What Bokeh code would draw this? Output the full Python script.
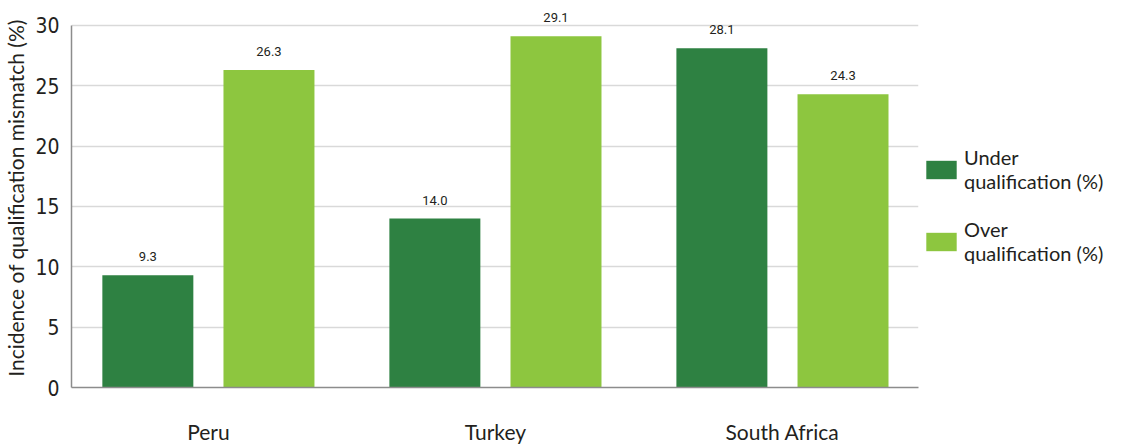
from bokeh.plotting import figure
from bokeh.models import ColumnDataSource, Range1d, FixedTicker, Legend, LegendItem
from bokeh.transform import dodge
from bokeh.embed import file_html
from bokeh.resources import INLINE

countries = ["Peru", "Turkey", "South Africa"]
under = [9.3, 14.0, 28.1]
over = [26.3, 29.1, 24.3]
y_ticks = [0, 5, 10, 15, 20, 25, 30]
series_names = ["Under\nqualification (%)", "Over\nqualification (%)"]

DARK = "#2E8142"
LIGHT = "#8DC63F"
TXT = "#231F20"

idx = list(range(len(countries)))
src = ColumnDataSource(dict(
    x=idx, under=under, over=over,
    under_lbl=[f"{v:.1f}" for v in under],
    over_lbl=[f"{v:.1f}" for v in over],
))

p = figure(frame_width=847, frame_height=379, output_backend="svg", toolbar_location=None,
           x_range=Range1d(-0.477, 2.474), y_range=Range1d(0, 31.4),
           min_border_left=63, min_border_right=0, min_border_top=8, min_border_bottom=0)
p.outline_line_color = None
p.background_fill_color = "white"

off = 0.211
bw = 0.317
r1 = p.vbar(x=dodge("x", -off), top="under", width=bw, source=src, fill_color=DARK, line_color=None)
r2 = p.vbar(x=dodge("x", off), top="over", width=bw, source=src, fill_color=LIGHT, line_color=None)

for col, lbl, o in (("under", "under_lbl", -off), ("over", "over_lbl", off)):
    p.text(x=dodge("x", o), y=col, text=lbl, source=src, text_align="center",
           text_baseline="bottom", y_offset=-14, text_font_size="13px",
           text_font={"value": "Roboto"}, text_color=TXT)

p.xaxis.ticker = FixedTicker(ticks=idx)
p.xaxis.major_label_overrides = {i: c for i, c in zip(idx, countries)}
p.xaxis.major_tick_line_color = None
p.xaxis.major_tick_out = 0
p.xaxis.major_tick_in = 0
p.xaxis.minor_tick_line_color = None
p.xaxis.axis_line_color = "#8C8C8C"
p.xaxis.axis_line_width = 1.5
p.xaxis.major_label_standoff = 31
p.xaxis.major_label_text_font = "Lato"
p.xaxis.major_label_text_font_size = "21px"
p.xaxis.major_label_text_color = TXT

p.yaxis.ticker = FixedTicker(ticks=y_ticks)
p.yaxis.bounds = (0, 30)
p.yaxis.major_tick_line_color = None
p.yaxis.major_tick_out = 0
p.yaxis.major_tick_in = 0
p.yaxis.minor_tick_line_color = None
p.yaxis.axis_line_color = "#8C8C8C"
p.yaxis.axis_line_width = 1.5
p.yaxis.major_label_standoff = 12
p.yaxis.major_label_text_font = "DejaVu Sans Condensed"
p.yaxis.major_label_text_font_size = "21px"
p.yaxis.major_label_text_color = TXT
p.yaxis.axis_label = "Incidence of qualification mismatch (%)"
p.yaxis.axis_label_text_font = "Lato"
p.yaxis.axis_label_text_font_style = "normal"
p.yaxis.axis_label_text_font_size = "21px"
p.yaxis.axis_label_text_color = TXT
p.yaxis.axis_label_standoff = 4

p.xgrid.grid_line_color = None
p.ygrid.ticker = FixedTicker(ticks=y_ticks)
p.ygrid.grid_line_color = "#D9D9D9"
p.ygrid.grid_line_width = 1.5

legend = Legend(items=[LegendItem(label=series_names[0], renderers=[r1]),
                       LegendItem(label=series_names[1], renderers=[r2])],
                location=(4, 122), orientation="vertical",
                glyph_width=38, glyph_height=23, label_standoff=4, spacing=24,
                padding=0, margin=8, border_line_color=None, background_fill_alpha=0,
                label_text_font="Lato", label_text_font_size="20px", label_text_color=TXT,
                label_height=23)
p.add_layout(legend, "right")

open("out.html", "w").write(file_html(p, INLINE))
